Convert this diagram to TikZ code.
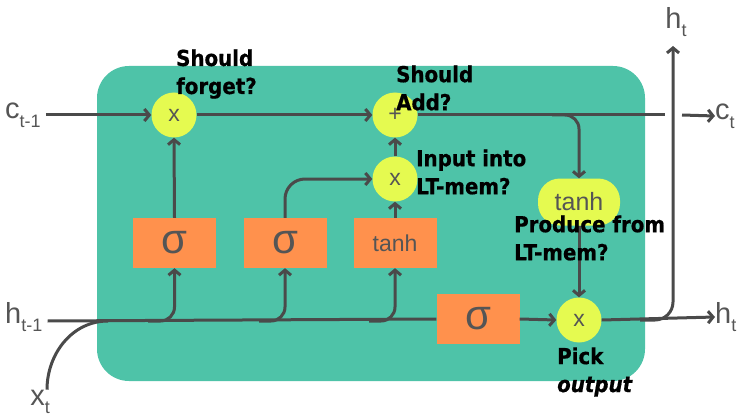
\documentclass[tikz,border=0pt]{standalone}
\usepackage{fontspec}
\setmainfont{Liberation Sans}
\newfontfamily\qfont[FakeStretch=0.9,FakeBold=0.6]{DejaVu Sans}
\usetikzlibrary{arrows.meta}

\definecolor{cellgreen}{RGB}{78,195,168}
\definecolor{gateorange}{RGB}{255,145,77}
\definecolor{opyellow}{RGB}{229,250,80}
\definecolor{wire}{RGB}{74,74,74}
\definecolor{labelgray}{RGB}{85,85,85}

% variable name with a lowered subscript
\newcommand{\vsub}[2]{#1\raisebox{-0.3em}{\fontsize{18}{18}\selectfont #2}}

\begin{document}
\begin{tikzpicture}[x=1pt,y=-1pt,
  wireline/.style={draw=wire,line width=3pt},
  arr/.style={wireline,-{Straight Barb[length=5pt,width=12pt]}},
  opnode/.style={circle,fill=opyellow,minimum size=45pt,inner sep=0pt,
    text=labelgray,font=\fontsize{23}{23}\selectfont},
  gatebox/.style={rectangle,fill=gateorange,minimum width=83pt,minimum height=50pt,
    inner sep=0pt,text=labelgray},
  sigmabox/.style={gatebox,font=\fontsize{42}{42}\selectfont},
  tanhbox/.style={gatebox,font=\fontsize{23}{23}\selectfont},
  varlabel/.style={text=labelgray,inner sep=0pt,font=\fontsize{29}{29}\selectfont},
  question/.style={inner sep=0pt,anchor=west,align=left,text=black,
    font=\qfont\bfseries\fontsize{22}{28}\selectfont}]

\useasboundingbox (0,0) rectangle (744,417);

% cell body
\fill[cellgreen,rounded corners=32pt] (97,66) rectangle (645,381);

% inputs and outputs
\node[varlabel,anchor=west] (cprev) at (5,115) {\vsub{c}{t-1}};
\node[varlabel,anchor=west] (hprev) at (5,317) {\vsub{h}{t-1}};
\node[varlabel] (xt) at (40,402) {\vsub{x}{t}};
\node[varlabel,anchor=west] (ct) at (715,116) {\vsub{c}{t}};
\node[varlabel,anchor=west] (ht) at (715,317) {\vsub{h}{t}};
\node[varlabel] (htop) at (676,22) {\vsub{h}{t}};

% pointwise operations
\node[opnode] (forget) at (174,115) {x};
\node[opnode] (add) at (395,115) {+};
\node[opnode] (inmul) at (395,179) {x};
\node[opnode] (outmul) at (579,320) {x};
\node[fill=opyellow,rounded corners=22pt,minimum width=82pt,minimum height=47pt,
  inner sep=0pt,text=labelgray,font=\fontsize{25}{25}\selectfont] (ctanh) at (579,202) {tanh};

% gate layers
\node[sigmabox] (sf) at (174.5,243) {σ};
\node[sigmabox] (si) at (285,243) {σ};
\node[tanhbox] (tc) at (395,243) {tanh};
\node[sigmabox] (so) at (478,319) {σ};

% branch points and free ends
\coordinate (hb1) at (148,321);
\coordinate (hb2) at (259,321);
\coordinate (hb3) at (369,321);
\coordinate (xjoin) at (108,321);
\coordinate (cbr) at (552,115);
\coordinate (cend) at (665,115);
\coordinate (cresume) at (682,115);
\coordinate (hbr) at (640,320);
\coordinate (hup) at (673,46);

% cell state line
\draw[arr] (cprev.east) ++(5,0) -- (forget.west);
\draw[arr] (forget.east) -- (add.west);
\draw[wireline] (add.east) -- (cend);
\draw[arr] (cresume) -- (ct.west);
\draw[arr,rounded corners=14pt] (cbr) -| (ctanh.north);
\draw[arr] (ctanh.south) -- (outmul.north);

% hidden state and input line
\draw[wireline] (hprev.east) ++(5,4) -- (so.west);
\draw[wireline] (xt.north) ++(7,0) to[out=90,in=180] (xjoin);
\draw[arr] (so.east) -- (outmul.west);
\draw[arr,rounded corners=14pt] (hb1) -| (sf.south);
\draw[arr,rounded corners=14pt] (hb2) -| (si.south);
\draw[arr,rounded corners=14pt] (hb3) -| (tc.south);

% gate outputs
\draw[arr] (sf.north) -- (forget.south);
\draw[arr,rounded corners=20pt] (si.north) |- (inmul.west);
\draw[arr] (tc.north) -- (inmul.south);
\draw[arr] (inmul.north) -- (add.south);

% output
\draw[arr] (outmul.east) -- (ht.west);
\draw[arr,rounded corners=18pt] (hbr) -| (hup);

% annotations
\node[question] (qforget) at (176,74) {Should\\forget?};
\node[question] (qadd) at (396,88) {Should\\Add?};
\node[question] (qinput) at (416,172) {Input into\\LT-mem?};
\node[question] (qproduce) at (514,238) {Produce from\\LT-mem?};
\node[question] (qpick) at (557,372) {Pick\\\itshape output};

\end{tikzpicture}
\end{document}
